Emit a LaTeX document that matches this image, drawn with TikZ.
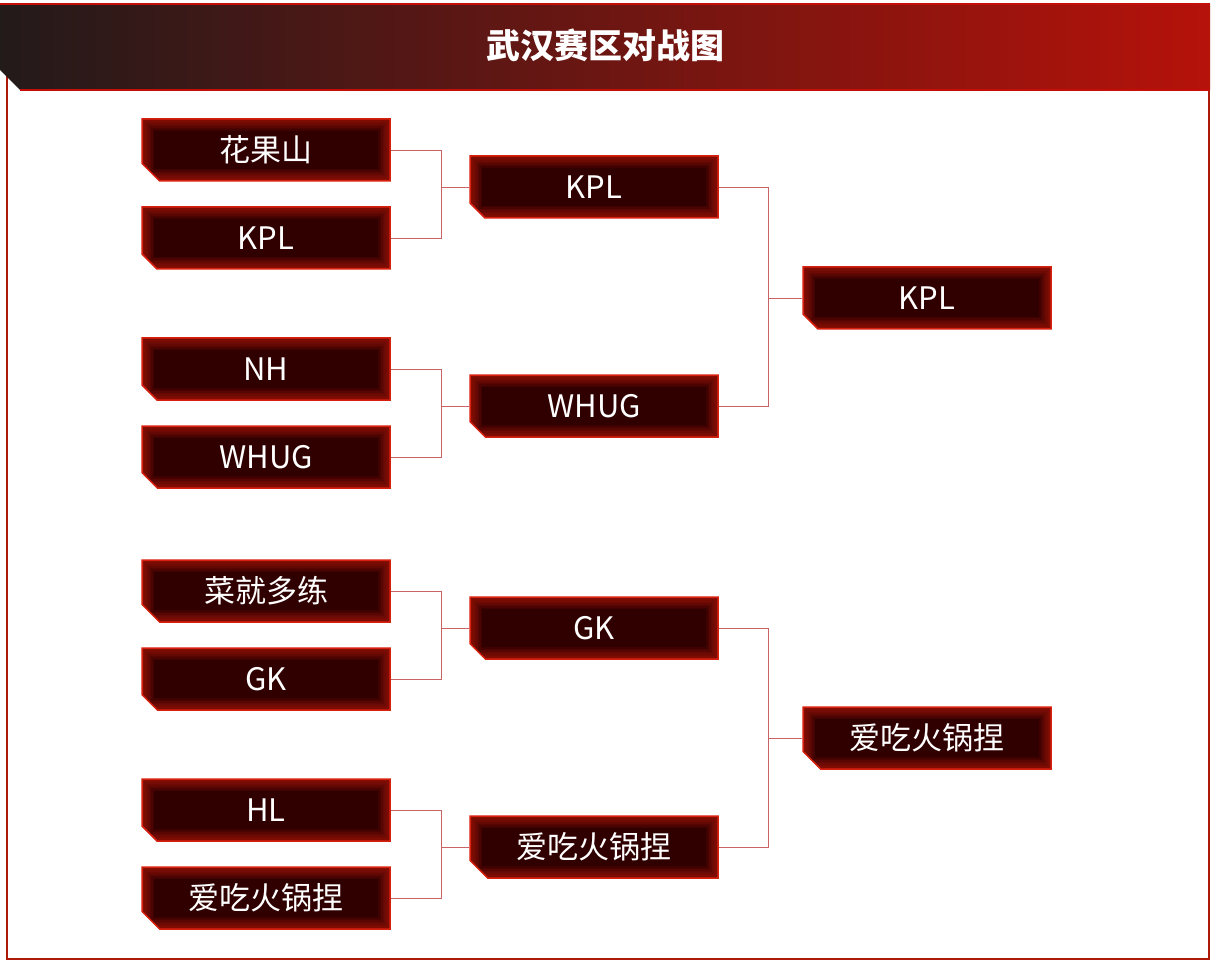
\documentclass[tikz,border=0pt]{standalone}
\usepackage{fontspec}
\setmainfont{Noto Sans CJK SC}
\usetikzlibrary{shapes.misc}
\definecolor{boxfill}{HTML}{300000}
\definecolor{boxedge}{HTML}{D8200E}
\definecolor{conn}{HTML}{C86464}
\definecolor{hdl}{HTML}{231A1A}
\definecolor{hdr}{HTML}{B5120A}
\tikzset{
  team/.style={chamfered rectangle, chamfered rectangle corners=south west,
    chamfered rectangle xsep=14pt, minimum width=248pt, minimum height=62pt,
    inner sep=0pt, fill=boxfill, draw=boxedge, line width=1.5pt,
    text=white, font=\fontsize{31}{31}\selectfont,
    path picture={
      \foreach \w in {24,21,18,15,12,9,6,3}{
        \draw[boxedge, line width=\w pt, opacity=0.09]
          (path picture bounding box.south west) rectangle (path picture bounding box.north east);}
    }},
  link/.style={conn, line width=0.9pt}
}
\begin{document}
\begin{tikzpicture}[x=1pt,y=-1pt]
\useasboundingbox (0,0) rectangle (1212,965);
\fill[white] (0,0) rectangle (1212,965);
\draw[boxedge!80!black, line width=2pt] (7,70) rectangle (1209,959);
\shade[left color=hdl, right color=hdr] (0,4) -- (1210,4) -- (1210,90) -- (20,90) -- (0,70) -- cycle;
\draw[hdr!80!red, line width=1.5pt] (0,4) -- (1210,4);
\draw[hdr!80!red, line width=1.5pt] (20,90) -- (1210,90);
\node[text=white, font=\fontsize{34}{34}\bfseries] (title) at (605,45) {武汉赛区对战图};

\node[team] (a1) at (266,150) {花果山};
\node[team] (a2) at (266,238) {KPL};
\node[team] (a3) at (266,369) {NH};
\node[team] (a4) at (266,457) {WHUG};
\node[team] (a5) at (266,591) {菜就多练};
\node[team] (a6) at (266,679) {GK};
\node[team] (a7) at (266,810) {HL};
\node[team] (a8) at (266,898) {爱吃火锅捏};
\node[team] (b1) at (594,187) {KPL};
\node[team] (b2) at (594,406) {WHUG};
\node[team] (b3) at (594,628) {GK};
\node[team] (b4) at (594,847) {爱吃火锅捏};
\node[team] (c1) at (927,298) {KPL};
\node[team] (c2) at (927,738) {爱吃火锅捏};

\foreach \p/\q/\r in {a1/a2/b1,a3/a4/b2,a5/a6/b3,a7/a8/b4}{
  \draw[link] (\p.east) -- ++(51,0) |- (\r.west);
  \draw[link] (\q.east) -- ++(51,0) |- (\r.west);
}
\foreach \p/\q/\r in {b1/b2/c1,b3/b4/c2}{
  \draw[link] (\p.east) -- ++(50,0) |- (\r.west);
  \draw[link] (\q.east) -- ++(50,0) |- (\r.west);
}
\end{tikzpicture}
\end{document}
